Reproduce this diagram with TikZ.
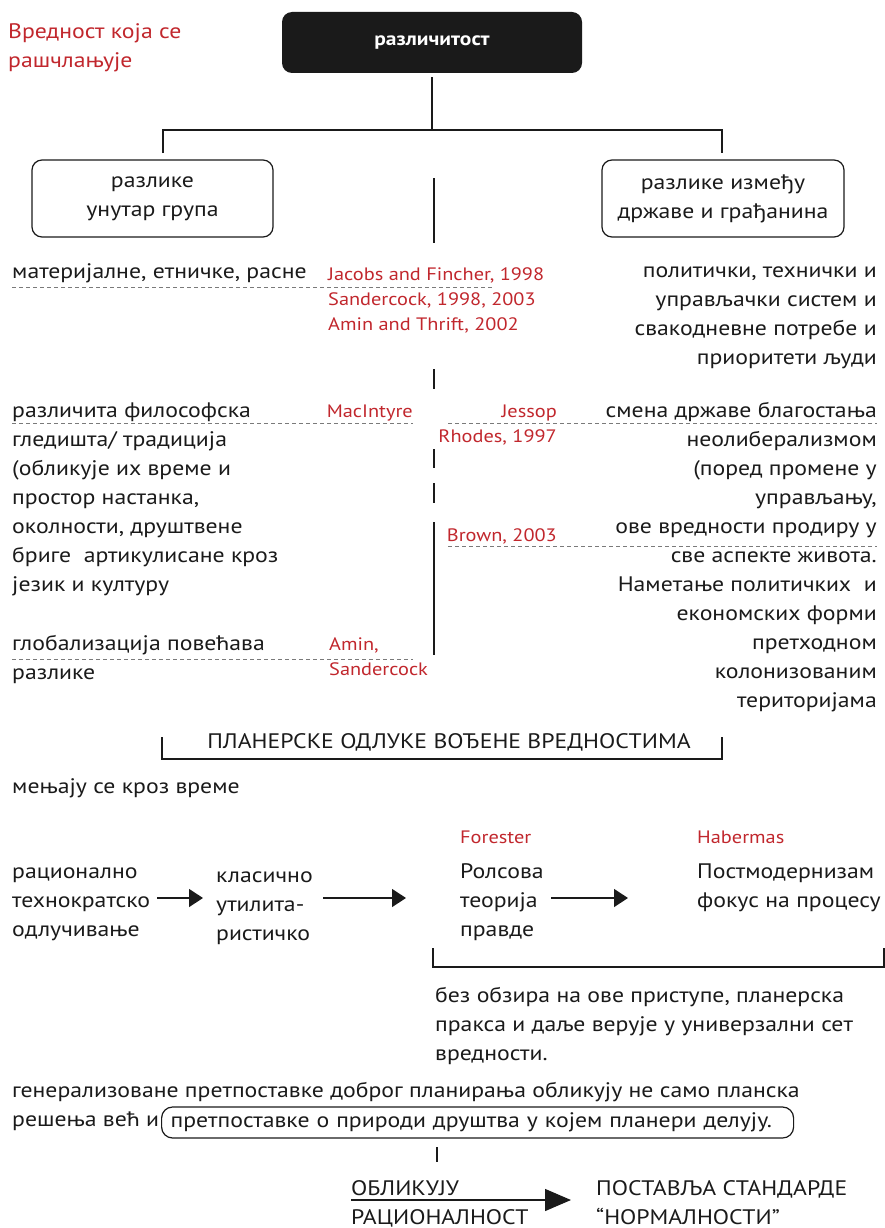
\documentclass[tikz,border=0pt]{standalone}
\usepackage{fontspec}
\setmainfont{PT Sans}[FakeStretch=1.13]
\definecolor{dvRed}{HTML}{C1272D}
\definecolor{dvInk}{HTML}{1A1A1A}
\definecolor{dvDash}{HTML}{7A7A7A}
\usetikzlibrary{arrows.meta}

\tikzset{
  body/.style={font=\fontsize{21}{29}\selectfont, text=dvInk, inner sep=0pt},
  cite/.style={font=\fontsize{18}{25}\selectfont, text=dvRed, inner sep=0pt},
  panel/.style={body, draw=dvInk, line width=1.2pt, rounded corners=10pt,
    minimum height=77pt, align=center},
  rule/.style={dvInk, line width=1.3pt},
  dashrule/.style={dvDash, line width=1pt, dash pattern=on 4pt off 3pt},
  fwd/.style={dvInk, line width=1.3pt, -{Triangle[length=14pt,width=18pt]}},
}

\begin{document}
\begin{tikzpicture}[x=1pt, y=-1pt]
  \useasboundingbox (0,0) rectangle (885,1228);

  % value being broken down
  \node[body, text=dvRed, anchor=base west, align=left] (label) at (8,68) {Вредност која се\\рашчлањује};
  \node[fill=dvInk, rounded corners=10pt, minimum width=300pt, minimum height=61pt,
    text=white, font=\fontsize{19}{22}\selectfont\bfseries] (divers) at (432,42.5) {различитост};

  % tree
  \coordinate (fork) at (432,130);
  \coordinate (forkL) at (163,130);
  \coordinate (forkR) at (722,130);
  \coordinate (dropL) at (163,153);
  \coordinate (dropR) at (722,153);
  \draw[rule] ([yshift=-4pt]divers.south) -- (fork);
  \draw[rule] (dropL) -- (forkL) -- (forkR) -- (dropR);
  \node[panel, minimum width=241pt] (within) at (152.5,198.5) {разлике\\унутар група};
  \node[panel, minimum width=242pt] (between) at (723,198.5) {разлике између\\државе и грађанина};

  % spine
  \foreach \a/\b in {178/243, 369/389, 449/468, 483/503, 522/655}
    \draw[rule] (434,\a) -- (434,\b);

  % material differences
  \node[body, anchor=base west] (matL) at (12,278) {материјалне, етничке, расне};
  \draw[dashrule] (12,287) -- (493,287);
  \node[cite, anchor=base west, align=left] (citeA) at (328,330) {Jacobs and Fincher, 1998\\Sandercock, 1998, 2003\\Amin and Thrift, 2002};
  \node[body, anchor=base east, align=right] (sysR) at (877,364) {политички, технички и\\управљачки систем и\\свакодневне потребе и\\приоритети људи};

  % philosophy / welfare state
  \node[body, anchor=base west, align=left] (philL) at (12,591) {различита философска\\гледишта/ традиција\\(обликује их време и\\простор настанка,\\околности, друштвене\\бриге\ \ артикулисане кроз\\језик и културу};
  \draw[dashrule] (12,423) -- (413,423);
  \node[cite, anchor=base east] (citeM) at (413,417) {MacIntyre};
  \node[cite, anchor=base east, align=right] (citeJ) at (557,442) {Jessop\\Rhodes, 1997};
  \draw[dashrule] (448,423) -- (877,423);
  \node[body, anchor=base east, align=right] (welfR) at (877,707) {смена државе благостања\\неолиберализмом\\(поред промене у\\управљању,\\ове вредности продиру у\\све аспекте живота.\\Наметање политичких\ \ и\\економских форми\\претходном\\колонизованим\\територијама};
  \node[cite, anchor=base east] (citeB) at (557,541) {Brown, 2003};
  \draw[dashrule] (448,546) -- (877,546);

  % globalisation
  \node[body, anchor=base west, align=left] (globL) at (12,679) {глобализација повећава\\разлике};
  \draw[dashrule] (12,659) -- (413,659);
  \node[cite, anchor=base west, align=left] (citeS) at (329,675) {Amin,\\Sandercock};

  % value-led decisions
  \node[body, anchor=base] (decide) at (449,748) {ПЛАНЕРСКЕ ОДЛУКЕ ВОЂЕНЕ ВРЕДНОСТИМА};
  \draw[rule] (162,737) -- (162,759) -- (722,759) -- (722,737);
  \node[body, anchor=base west] (time) at (12,793) {мењају се кроз време};

  % sequence of approaches
  \coordinate (lane) at (0,898);
  \node[cite, anchor=base west] (forester) at (460,843) {Forester};
  \node[cite, anchor=base west] (habermas) at (697,843) {Habermas};
  \node[body, anchor=base west, align=left] (rational) at (12,936) {рационално\\технократско\\одлучивање};
  \node[body, anchor=base west, align=left] (utilit) at (216,940) {класично\\утилита-\\ристичко};
  \node[body, anchor=base west, align=left] (rawls) at (460,936) {Ролсова\\теорија\\правде};
  \node[body, anchor=base west, align=left] (postmod) at (697,907) {Постмодернизам\\фокус на процесу};
  \draw[fwd] ([xshift=7pt]rational.east |- lane) -- ([xshift=-13pt]utilit.west |- lane);
  \draw[fwd] ([xshift=-137pt]rawls.west |- lane) -- ([xshift=-54pt]rawls.west |- lane);
  \draw[fwd] ([xshift=-146pt]postmod.west |- lane) -- ([xshift=-69pt]postmod.west |- lane);

  \draw[rule] (433,948) -- (433,967) -- (884,967) -- (884,948);
  \node[body, anchor=base west, align=left] (despite) at (435,1060) {без обзира на ове приступе, планерска\\пракса и даље верује у универзални сет\\вредности.};

  % generalised assumptions
  \node[body, anchor=base west, align=left] (general) at (12,1126) {генерализоване претпоставке доброг планирања обликују не само планска\\решења већ и};
  \node[body, draw=dvInk, line width=1.2pt, rounded corners=11pt, anchor=west, align=left,
    text width=614pt, inner xsep=9pt, minimum height=31pt, text height=14pt, text depth=5pt]
    (society) at (161,1122.5) {претпоставке о природи друштва у којем планери делују.};
  \draw[rule] (437,1147) -- (437,1162);

  % rationality and normality
  \coordinate (lane2) at (0,1200);
  \node[body, anchor=base west, align=left] (shape) at (351,1224) {ОБЛИКУЈУ\\РАЦИОНАЛНОСТ};
  \node[body, anchor=base west, align=left] (norm) at (596,1224) {ПОСТАВЉА СТАНДАРДЕ\\“НОРМАЛНОСТИ”};
  \draw[rule, -{Triangle[length=26pt,width=22pt]}] (shape.west |- lane2) -- ([xshift=-25pt]norm.west |- lane2);
\end{tikzpicture}
\end{document}
